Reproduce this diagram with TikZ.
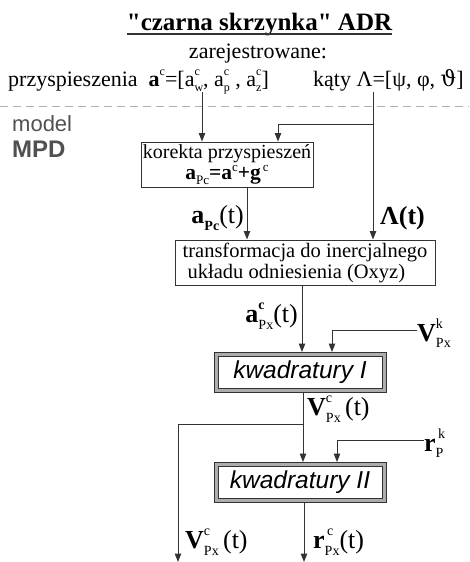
\documentclass[tikz,border=0pt]{standalone}
\usepackage{fontspec}
\setmainfont{Liberation Serif}
\setsansfont{Liberation Sans}
\newfontfamily\dvserif{DejaVu Serif}
\newfontfamily\titlefont{Liberation Serif}[Ligatures=TeXOff]
\usetikzlibrary{arrows.meta}
\definecolor{linec}{HTML}{333333}
\definecolor{dashc}{HTML}{B0B0B0}
\definecolor{mpdc}{HTML}{505050}
\newcommand\supsb[3][12]{\rlap{\raisebox{0.5em}{\fontsize{#1}{#1}\selectfont #2}}\raisebox{-0.25em}{\fontsize{#1}{#1}\selectfont #3}}
\newcommand\sps[2][12]{\raisebox{0.5em}{\fontsize{#1}{#1}\selectfont #2}}
\newcommand\spl[2][12]{\raisebox{0.36em}{\fontsize{#1}{#1}\selectfont #2}}
\newcommand\sbs[2][12]{\raisebox{-0.25em}{\fontsize{#1}{#1}\selectfont #2}}
\tikzset{
  conn/.style={draw=linec, line width=1pt},
  arr/.style={conn, -{Triangle[length=8.5pt,width=6.5pt]}},
  box/.style={draw=linec, line width=1pt, fill=white, inner sep=0pt, align=center},
  dbox/.style={draw=linec, line width=1pt, double=gray!65, double distance=3pt, outer sep=2.5pt,
    fill=white, minimum width=168pt, minimum height=36pt, inner sep=0pt,
    font=\sffamily\itshape\fontsize{24.5}{26}\selectfont},
  lbl/.style={inner sep=0pt, font=\fontsize{26}{28}\selectfont},
  txt/.style={inner sep=0pt, font=\fontsize{22}{24}\selectfont}
}
\begin{document}
\begin{tikzpicture}[x=1pt,y=-1pt]
\useasboundingbox (0,0) rectangle (469,562);
% header
\node[inner sep=0pt, font=\titlefont\bfseries\fontsize{25}{28}\selectfont, anchor=base] (title) at (259.5,30) {"czarna skrzynka" ADR};
\draw[line width=2pt, linec] ([yshift=-3.5pt]title.base west) -- ([yshift=-3.5pt]title.base east);
\node[txt, anchor=base] (zar) at (258,58) {zarejestrowane:};
\node[txt, anchor=base west] (acc) at (8,86) {przyspieszenia\ \ \textbf{a}\sps[12]{c}=[a\supsb[12]{c}{w}, a\supsb[12]{c}{p} , a\supsb[12]{c}{z}]};
\node[txt, anchor=base west] (ang) at (313,86) {kąty Λ=[ψ, φ, {\dvserif ϑ}]};
% separator
\draw[dashc, line width=1pt, dash pattern=on 8pt off 5pt] (0,106) -- (469,106);
\node[inner sep=0pt, anchor=base west, text=mpdc, font=\sffamily\fontsize{22}{24}\selectfont] (model) at (12,131) {model};
\node[inner sep=0pt, anchor=base west, text=mpdc, font=\sffamily\bfseries\fontsize{24}{26}\selectfont] (mpd) at (12,157) {MPD};
% boxes
\node[box, minimum width=172pt, minimum height=45pt, font=\fontsize{20}{21}\selectfont] (kor) at (227,164.5)
  {korekta przyspieszeń\\ {\fontsize{21.5}{21}\selectfont\textbf{a}\sbs[13]{Pc}\textbf{=a}\spl[13]{c}\textbf{+g}\spl[13]{\,c}}};
\node[box, minimum width=260pt, minimum height=45pt, align=left, font=\fontsize{20.5}{21}\selectfont] (tr) at (305,262.5)
  {transformacja do inercjalnego\\ \hspace{5pt}układu odniesienia (Oxyz)};
\node[dbox] (k1) at (300,372.5) {kwadratury I};
\node[dbox] (k2) at (300,482.5) {kwadratury II};
% inputs
\coordinate (a0) at (202,92);
\coordinate (l0) at (373,92);
\coordinate (lb) at (373,124);
\draw[arr] (a0) -- (a0 |- kor.north);
\draw[arr] (l0) -- (l0 |- tr.north);
\draw[arr] (lb) -| ([xshift=51pt]kor.north);
\draw[arr] ([xshift=20pt]kor.south) -- ([xshift=20pt]kor.south |- tr.north);
\draw[arr] ([xshift=-3pt]tr.south) -- ([xshift=2pt]k1.north);
\node[lbl, anchor=west] (vk) at (417,333) {\textbf{V}\supsb[14]{k}{Px}};
\draw[arr] ([yshift=3pt]vk.west) -| ([xshift=32pt]k1.north);
\draw[arr] ([xshift=3pt]k1.south) -- ([xshift=3pt]k2.north);
\coordinate (br) at (303,424);
\coordinate (ve) at (178,562);
\draw[arr] (br) -| (ve);
\node[lbl, anchor=west] (rk) at (424,443) {\textbf{r}\supsb[14]{\,k}{P}};
\draw[arr] ([yshift=3pt]rk.west) -| ([xshift=37pt]k2.north);
\coordinate (re) at (304,562);
\draw[arr] ([xshift=4pt]k2.south) -- (re);
% labels
\node[lbl, anchor=east] (lapc) at (244,218) {\textbf{a}\sbs[14]{\textbf{Pc}}(t)};
\node[lbl, anchor=west, font=\bfseries\fontsize{26}{28}\selectfont] (llam) at (380,218) {Λ(t)};
\node[lbl, anchor=east] (lapx) at (298,316) {\textbf{a}\supsb[14]{\textbf{c}}{Px}(t)};
\node[lbl, anchor=west] (lv1) at (307,409) {\textbf{V}\supsb[14]{c}{Px}\,(t)};
\node[lbl, anchor=west] (lv2) at (185,542) {\textbf{V}\supsb[14]{c}{Px}\,(t)};
\node[lbl, anchor=west] (lr) at (313,542) {\textbf{r}\supsb[14]{\,c}{Px}(t)};
\end{tikzpicture}
\end{document}
